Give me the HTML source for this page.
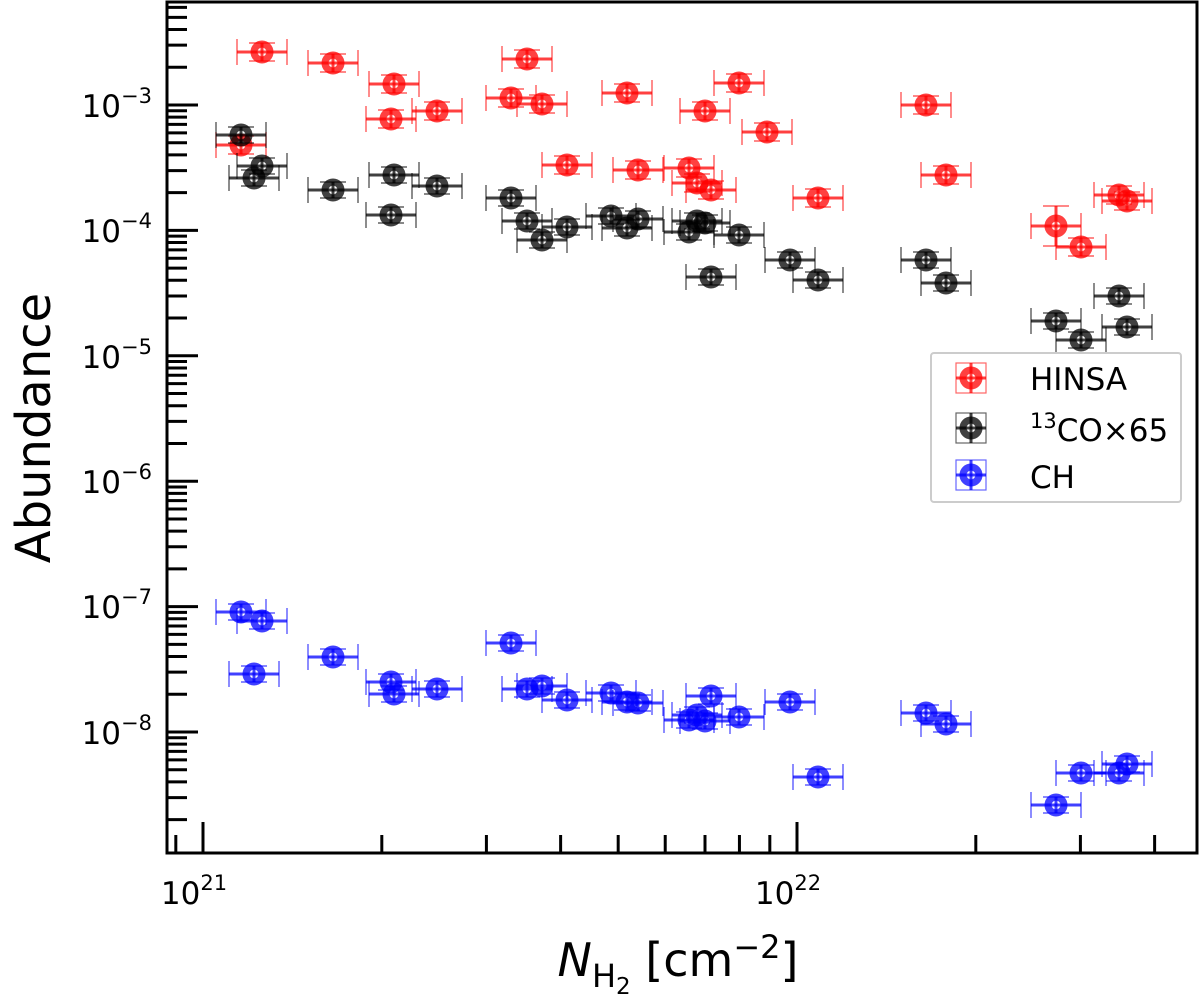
<!DOCTYPE html>
<html><head><meta charset="utf-8"><style>
html,body{margin:0;padding:0;background:#fff;}
svg{display:block;font-family:"DejaVu Sans","Liberation Sans",sans-serif;}
</style></head><body>
<svg id="s" width="1200" height="996" viewBox="0 0 1200 996" xmlns="http://www.w3.org/2000/svg">
<g id="pts"></g>
<rect x="167" y="2" width="1030" height="851" fill="none" stroke="#000" stroke-width="3"/>
<g id="ticks" stroke="#000" stroke-width="3"></g>
<g font-size="31" fill="#000" text-anchor="end">
<text x="152" y="117">10<tspan dy="-14" font-size="21">−3</tspan></text>
<text x="152" y="242">10<tspan dy="-14" font-size="21">−4</tspan></text>
<text x="152" y="368">10<tspan dy="-14" font-size="21">−5</tspan></text>
<text x="152" y="493">10<tspan dy="-14" font-size="21">−6</tspan></text>
<text x="152" y="618">10<tspan dy="-14" font-size="21">−7</tspan></text>
<text x="152" y="744">10<tspan dy="-14" font-size="21">−8</tspan></text>
</g>
<g font-size="31" fill="#000" text-anchor="middle">
<text x="194" y="904">10<tspan dy="-14" font-size="21">21</tspan></text>
<text x="788" y="904">10<tspan dy="-14" font-size="21">22</tspan></text>
</g>
<text x="0" y="0" font-size="48" transform="translate(50,428) rotate(-90)" text-anchor="middle">Abundance</text>
<text x="678" y="976" font-size="46" text-anchor="middle"><tspan font-style="italic">N</tspan><tspan font-size="32" dy="11">H</tspan><tspan font-size="23" dy="7">2</tspan><tspan dy="-18"> [cm</tspan><tspan font-size="32" dy="-18">−2</tspan><tspan dy="18">]</tspan></text>
<rect x="931" y="353" width="250" height="149" fill="#fff" stroke="#ccc" stroke-width="2" rx="3"/>
<g id="leg"></g>
<g font-size="31" fill="#000">
<text x="1030" y="390">HINSA</text>
<text x="1030" y="441"><tspan font-size="21" dy="-13">13</tspan><tspan dy="13">CO×65</tspan></text>
<text x="1030" y="488">CH</text>
</g>
</svg>
<script>
var NS="http://www.w3.org/2000/svg";
function el(p,t,a){var e=document.createElementNS(NS,t);for(var k in a)e.setAttribute(k,a[k]);p.appendChild(e);return e;}
var T=document.getElementById("ticks");
for(var d=-9;d<=-2;d++){var y0=732-(d+8)*125.4;
 for(var m=1;m<10;m++){var y=y0-Math.log10(m)*125.4; if(y<3||y>852)continue;
  el(T,"line",{x1:167,x2:m==1?198:187,y1:y,y2:y});}}
for(var d=20;d<=22;d++){var x0=203+(d-21)*594;
 for(var m=1;m<10;m++){var x=x0+Math.log10(m)*594; if(x<168||x>1196)continue;
  el(T,"line",{x1:x,x2:x,y1:853,y2:m==1?822:835});}}
var P=document.getElementById("pts");
function marker(g,x,y,c,hx,vy){
 var a={stroke:c,"stroke-opacity":0.75};
 el(g,"line",Object.assign({x1:x-hx,x2:x+hx,y1:y,y2:y,"stroke-width":3},a));
 el(g,"line",Object.assign({x1:x-hx,x2:x-hx,y1:y-13,y2:y+13,"stroke-width":1.2},a));
 el(g,"line",Object.assign({x1:x+hx,x2:x+hx,y1:y-13,y2:y+13,"stroke-width":1.2},a));
 el(g,"line",Object.assign({x1:x,x2:x,y1:y-vy,y2:y+vy,"stroke-width":3},a));
 el(g,"line",Object.assign({x1:x-13,x2:x+13,y1:y-vy,y2:y-vy,"stroke-width":1.2},a));
 el(g,"line",Object.assign({x1:x-13,x2:x+13,y1:y+vy,y2:y+vy,"stroke-width":1.2},a));
 el(g,"circle",{cx:x,cy:y,r:8,fill:"none",stroke:c,"stroke-width":7,"stroke-opacity":0.75});
}
var red=[[262,52],[333,63],[394,84],[391,119],[437,111],[511,98],[527,59],[542,104],[567,165],[627,93],[638,170],[689,168],[697,183],[705,111],[711,190],[739,83],[767,132],[818,198],[926,105],[946,175],[1056,226],[1081,247],[1119,195],[1127,201],[241,145]];
var blk=[[241,135],[262,166],[254,178],[333,190],[394,175],[391,215],[437,186],[511,198],[527,221],[542,240],[567,227],[611,216],[627,228],[638,219],[689,232],[697,221],[705,223],[711,277],[739,235],[790,260],[818,280],[926,260],[946,283],[1056,321],[1081,340],[1119,296],[1127,327]];
var blu=[[241,612],[262,621],[254,674],[333,657],[391,682],[394,694],[437,689],[511,643],[527,689],[542,686],[567,700],[611,693],[627,702],[638,703],[689,720],[697,715],[705,721],[711,696],[739,717],[790,702],[818,777],[926,713],[946,724],[1056,805],[1081,773],[1119,773],[1127,764]];
red.forEach(function(p){marker(P,p[0],p[1],"#ff0000",25,p[0]==1056?20:9);});
blk.forEach(function(p){marker(P,p[0],p[1],"#000000",25,8);});
blu.forEach(function(p){marker(P,p[0],p[1],"#0000ff",25,8);});
var L=document.getElementById("leg");
[[378,"#ff0000"],[428,"#000000"],[475,"#0000ff"]].forEach(function(q){
 var x=971,y=q[0],c=q[1];
 el(L,"rect",{x:x-15,y:y-15,width:30,height:30,fill:"none",stroke:c,"stroke-opacity":0.6,"stroke-width":1.2});
 el(L,"line",{x1:x-15,x2:x+15,y1:y,y2:y,stroke:c,"stroke-opacity":0.75,"stroke-width":3});
 el(L,"line",{x1:x,x2:x,y1:y-15,y2:y+15,stroke:c,"stroke-opacity":0.75,"stroke-width":3});
 el(L,"circle",{cx:x,cy:y,r:8,fill:"none",stroke:c,"stroke-width":7,"stroke-opacity":0.75});
});
</script>
</body></html>
